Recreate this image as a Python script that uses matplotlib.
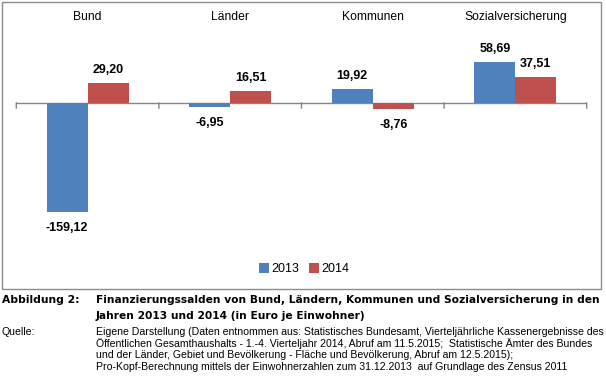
import matplotlib
matplotlib.use("Agg")
import matplotlib.pyplot as plt
from matplotlib.patches import Rectangle
import numpy as np

# data
categories = ["Bund", "Länder", "Kommunen", "Sozialversicherung"]
years = ["2013", "2014"]
saldo_2013 = [-159.12, -6.95, 19.92, 58.69]
saldo_2014 = [29.20, 16.51, -8.76, 37.51]

caption_label = "Abbildung 2:"
caption_lines = ["Finanzierungssalden von Bund, Ländern, Kommunen und Sozialversicherung in den",
                 "Jahren 2013 und 2014 (in Euro je Einwohner)"]
source_label = "Quelle:"
source_lines = [
    "Eigene Darstellung (Daten entnommen aus: Statistisches Bundesamt, Vierteljährliche Kassenergebnisse des",
    "Öffentlichen Gesamthaushalts - 1.-4. Vierteljahr 2014, Abruf am 11.5.2015;  Statistische Ämter des Bundes",
    "und der Länder, Gebiet und Bevölkerung - Fläche und Bevölkerung, Abruf am 12.5.2015);",
    "Pro-Kopf-Berechnung mittels der Einwohnerzahlen zum 31.12.2013  auf Grundlage des Zensus 2011",
]

blue = "#4F81BD"
red = "#C0504D"
W, H = 606, 379

fig = plt.figure(figsize=(W / 100, H / 100), dpi=100)

def fx(px):
    return px / W

def fy(py):
    return 1 - py / H

# chart frame
fig.patches.append(Rectangle((fx(2), fy(288.5)), fx(601) - fx(2), fy(1.5) - fy(288.5),
                             transform=fig.transFigure, fill=False,
                             edgecolor="#8c8c8c", linewidth=1.0))

# axes placement: zero line at y=102.7 px, 0.685 px per unit
top_px, bot_px, zero_px, scale = 30, 250, 102.7, 0.685
ax = fig.add_axes([fx(16.3), fy(bot_px), fx(586.7) - fx(16.3), fy(top_px) - fy(bot_px)])
ax.set_ylim(-(bot_px - zero_px) / scale, (zero_px - top_px) / scale)
ax.set_xlim(-0.5, len(categories) - 0.5)
ax.axis("off")

x = np.arange(len(categories))
w = 41 / 142.6
b1 = ax.bar(x - w / 2, saldo_2013, w, color=blue, label=years[0], zorder=2)
b2 = ax.bar(x + w / 2, saldo_2014, w, color=red, label=years[1], zorder=2)

# zero axis with category separator ticks
ax.axhline(0, color="#868686", linewidth=1.0, zorder=1)
for xt in np.arange(-0.5, len(categories), 1.0):
    ax.annotate("", xy=(xt, 0), xytext=(0, -4), xycoords="data", textcoords="offset points",
                arrowprops=dict(arrowstyle="-", color="#868686", linewidth=1.0,
                                shrinkA=0, shrinkB=0))

lab_font = "Liberation Sans"
for bars, vals in ((b1, saldo_2013), (b2, saldo_2014)):
    for r, v in zip(bars, vals):
        cx = r.get_x() + r.get_width() / 2
        txt = f"{v:.2f}".replace(".", ",")
        off = 13 * 0.72 if v >= 0 else -16 * 0.72
        ax.annotate(txt, (cx, v), xytext=(0, off), textcoords="offset points",
                    ha="center", va="center", fontsize=9, fontweight="bold",
                    family=lab_font, color="black")

for i, c in enumerate(categories):
    fig.text(fx(16.3 + 142.6 * (i + 0.5)), fy(17), c, ha="center", va="center",
             fontsize=8.7, family=lab_font)

# legend
fig.legend(handles=[b1, b2], loc="center", bbox_to_anchor=(fx(304), fy(269)),
           ncol=2, frameon=False, prop=dict(family=lab_font, size=9),
           handlelength=0.8, handleheight=0.8, handletextpad=0.2, columnspacing=0.8,
           borderpad=0)

# caption
font = "DejaVu Sans"
src_font = "Liberation Sans"
texts = []
t = fig.text(fx(2), fy(300), caption_label, ha="left", va="center", fontsize=8.5,
             fontweight="bold", family=font)
texts.append((t, 77))
t = fig.text(fx(96), fy(300), caption_lines[0], ha="left", va="center", fontsize=8.5,
             fontweight="bold", family=font)
texts.append((t, 501))
t2 = fig.text(fx(96), fy(315.7), caption_lines[1], ha="left", va="center", fontsize=8.5,
              fontweight="bold", family=font)
tq = fig.text(fx(2), fy(331.7), source_label, ha="left", va="center", fontsize=7,
              family=src_font)
src = []
for line, yy in zip(source_lines, [331.7, 343.3, 355, 366.5]):
    t = fig.text(fx(96), fy(yy), line, ha="left", va="center", fontsize=7, family=src_font)
    src.append(t)
texts.append((src[0], 508))

# scale font sizes so the text widths match
fig.canvas.draw()
r = fig.canvas.get_renderer()
for t, target in texts:
    wd = t.get_window_extent(r).width
    t.set_fontsize(t.get_fontsize() * target / wd)
t2.set_fontsize(texts[1][0].get_fontsize())
tq.set_fontsize(src[0].get_fontsize())
for t in src[1:]:
    t.set_fontsize(src[0].get_fontsize())

fig.savefig("out.png", dpi=100)
